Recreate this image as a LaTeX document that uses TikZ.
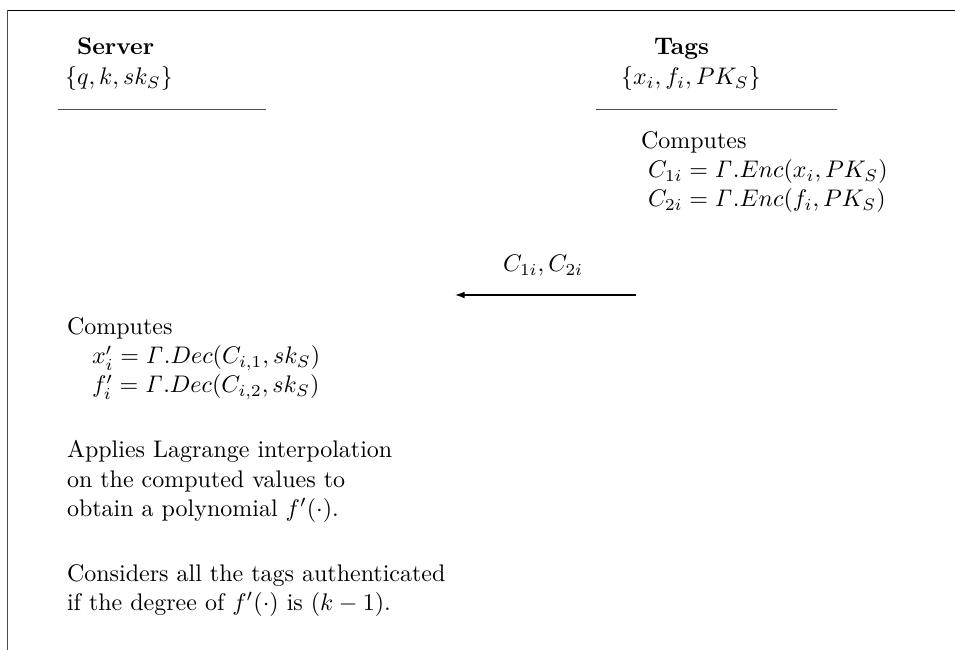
\documentclass[tikz,border=0pt]{standalone}
\usepackage{amsmath}
\usetikzlibrary{arrows.meta}
\begin{document}
\begin{tikzpicture}[x=0.41667pt,y=-0.41667pt,
  txt/.style={anchor=base west,inner sep=0pt,outer sep=0pt},
  rule/.style={line width=0.4pt,draw=black!70},
  frame/.style={line width=0.6pt},
  msg/.style={line width=0.5pt,-{Latex[length=4pt,width=2.8pt]}}]
\useasboundingbox (0,0) rectangle (955,650);
% frame
\coordinate (tl) at (7.5,10.5);
\coordinate (tr) at (955,10.5);
\coordinate (bl) at (7.5,650);
\draw[frame] (tr) -- (tl);
\draw[line width=0.5pt,draw=black!70] (tl) -- (bl);
% Server column
\node[txt] (srv) at (77,55) {\textbf{Server}};
\node[txt] (srvk) at (65,85) {$\{q,k,sk_S\}$};
\coordinate (su1) at (58,109);
\coordinate (su2) at (266,109);
\draw[rule] (su1) -- (su2);
% Tags column
\node[txt] (tag) at (654,55) {\textbf{Tags}};
\node[txt] (tagk) at (621,85) {$\{x_i,f_i,PK_S\}$};
\coordinate (tu1) at (596,109);
\coordinate (tu2) at (837,109);
\draw[rule] (tu1) -- (tu2);
\node[txt] (tc) at (641,149) {Computes};
\node[txt] (tc1) at (648,178) {$C_{1i}=\mathit{\Gamma}.Enc(x_i,PK_S)$};
\node[txt] (tc2) at (648,207) {$C_{2i}=\mathit{\Gamma}.Enc(f_i,PK_S)$};
% message
\coordinate (ms) at (636,295);
\coordinate (me) at (455,295);
\draw[msg] (ms) -- (me);
\node[txt] (ml) at (503,272) {$C_{1i},C_{2i}$};
% Server computations
\node[txt] (sc) at (67,335) {Computes};
\node[txt] (sc1) at (92,364) {$x'_i=\mathit{\Gamma}.Dec(C_{i,1},sk_S)$};
\node[txt] (sc2) at (92,393) {$f'_i=\mathit{\Gamma}.Dec(C_{i,2},sk_S)$};
\node[txt] (la1) at (67,458) {Applies Lagrange interpolation};
\node[txt] (la2) at (67,487) {on the computed values to};
\node[txt] (la3) at (67,516) {obtain a polynomial $f'(\cdot)$.};
\node[txt] (co1) at (67,581) {Considers all the tags authenticated};
\node[txt] (co2) at (67,610) {if the degree of $f'(\cdot)$ is $(k-1)$.};
\end{tikzpicture}
\end{document}
